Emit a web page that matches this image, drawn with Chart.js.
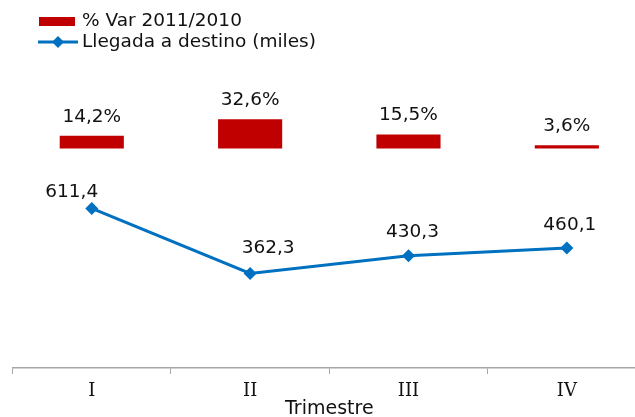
<!DOCTYPE html>
<html>
<head>
<meta charset="utf-8">
<script src="https://cdn.jsdelivr.net/npm/chart.js@4.4.0/dist/chart.umd.min.js"></script>
<style>
  html, body { margin: 0; padding: 0; background: #fff; overflow: hidden; }
  #chart { display: block; }
</style>
</head>
<body>
<canvas id="chart" width="646" height="420"></canvas>
<script>
// Data
const quarters = ["I", "II", "III", "IV"];
const varPct = [14.2, 32.6, 15.5, 3.6];
const arrivals = [611.4, 362.3, 430.3, 460.1];
const seriesNames = ["% Var 2011/2010", "Llegada a destino (miles)"];
const axisTitle = "Trimestre";

const RED = "#C00000";
const BLUE = "#0070C0";
const TEXT = "#111111";
const AXIS = "#A6A6A6";
const FONT = "DejaVu Sans";

// the line labels were moved by hand in the original, keep their shifts
const lineLabelShift = [[-20, -16], [18, -25], [4, -24], [3, -23]];

function fmt(v) {
    return v.toFixed(1).replace(".", ",");
}

// Value labels above bars and points
const valueLabels = {
    id: "valueLabels",
    afterDatasetsDraw(chart) {
        const ctx = chart.ctx;
        ctx.save();
        ctx.font = "18.5px '" + FONT + "'";
        ctx.fillStyle = TEXT;
        ctx.textAlign = "center";
        ctx.textBaseline = "middle";
        chart.getDatasetMeta(0).data.forEach((bar, i) => {
            ctx.fillText(fmt(varPct[i]) + "%", bar.x, bar.y - 19);
        });
        chart.getDatasetMeta(1).data.forEach((pt, i) => {
            ctx.fillText(fmt(arrivals[i]), pt.x + lineLabelShift[i][0], pt.y + lineLabelShift[i][1]);
        });
        ctx.restore();
    }
};

// Legend stacked in the top left corner
const cornerLegend = {
    id: "cornerLegend",
    afterDraw(chart) {
        const ctx = chart.ctx;
        ctx.save();
        ctx.fillStyle = RED;
        ctx.fillRect(39, 17, 36, 9);

        ctx.strokeStyle = BLUE;
        ctx.lineWidth = 3;
        ctx.beginPath();
        ctx.moveTo(38, 42);
        ctx.lineTo(78, 42);
        ctx.stroke();
        ctx.fillStyle = BLUE;
        ctx.beginPath();
        ctx.moveTo(58, 36);
        ctx.lineTo(64, 42);
        ctx.lineTo(58, 48);
        ctx.lineTo(52, 42);
        ctx.closePath();
        ctx.fill();

        ctx.font = "18.5px '" + FONT + "'";
        ctx.fillStyle = TEXT;
        ctx.textAlign = "left";
        ctx.textBaseline = "middle";
        ctx.fillText(seriesNames[0], 82, 21);
        ctx.fillText(seriesNames[1], 82, 42);
        ctx.restore();
    }
};

new Chart(document.getElementById("chart"), {
    data: {
        labels: quarters,
        datasets: [{
            type: "bar",
            label: seriesNames[0],
            data: varPct,
            yAxisID: "y2",
            backgroundColor: RED,
            borderWidth: 0,
            barPercentage: 0.405,
            categoryPercentage: 1
        }, {
            type: "line",
            label: seriesNames[1],
            data: arrivals,
            yAxisID: "y",
            borderColor: BLUE,
            borderWidth: 3,
            pointStyle: "rectRot",
            pointRadius: 6.5,
            pointBackgroundColor: BLUE,
            pointBorderColor: BLUE,
            pointBorderWidth: 0,
            tension: 0
        }]
    },
    options: {
        responsive: false,
        animation: false,
        devicePixelRatio: 1,
        layout: { autoPadding: false, padding: { top: 2.7, left: 12.6, right: 0, bottom: 1.5 } },
        plugins: {
            legend: { display: false },
            tooltip: { enabled: false }
        },
        scales: {
            x: {
                type: "category",
                offset: true,
                grid: { offset: true, drawOnChartArea: false, drawTicks: true, tickLength: 6, color: AXIS },
                border: { display: true, color: AXIS, width: 1.5 },
                ticks: { color: TEXT, padding: 8.5, font: { family: "DejaVu Serif", size: 18, lineHeight: 1 } },
                title: {
                    display: true,
                    text: axisTitle,
                    color: TEXT,
                    font: { family: FONT, size: 19, lineHeight: 1 },
                    padding: { top: -9.5, bottom: 0 }
                }
            },
            y: { display: false, min: 0, max: 1400 },
            y2: { display: false, min: -245, max: 162.7 }
        }
    },
    plugins: [valueLabels, cornerLegend]
});
</script>
</body>
</html>
